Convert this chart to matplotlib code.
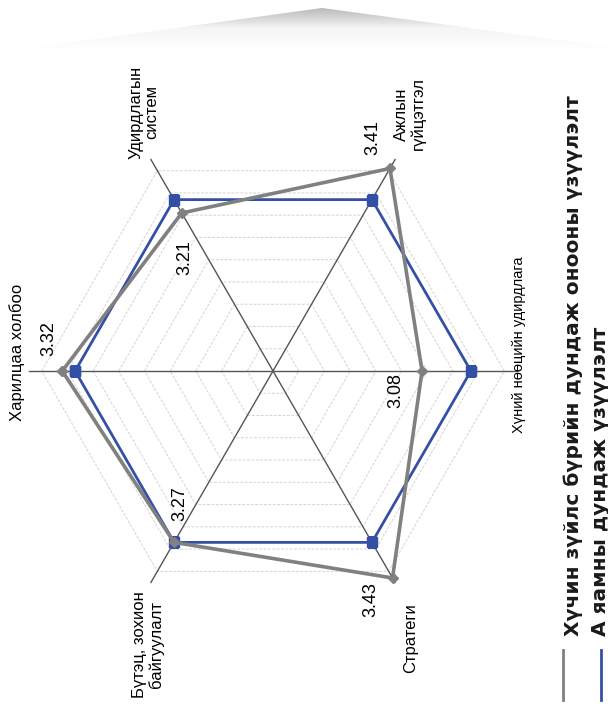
import numpy as np
import matplotlib
matplotlib.use("Agg")
import matplotlib.pyplot as plt
from matplotlib.lines import Line2D
from matplotlib.patches import Polygon

plt.rcParams['font.family'] = ['Liberation Sans', 'DejaVu Sans']

# ---- data ----
categories = ["Харилцаа холбоо", "Удирдлагын\nсистем", "Ажлын\nгүйцэтгэл",
              "Хүний нөөцийн удирдлага", "Стратеги", "Бүтэц, зохион\nбайгуулалт"]
factor_scores = [3.32, 3.21, 3.41, 3.08, 3.43, 3.27]
ministry_avg = [3.27, 3.27, 3.27, 3.27, 3.27, 3.27]
series_names = ["Хүчин зүйлс бүрийн дундаж онооны үзүүлэлт", "А яамны дундаж үзүүлэлт"]
r_min, r_max, r_step = 2.5, 3.4, 0.1

W, H = 608, 707
fig = plt.figure(figsize=(W / 100, H / 100), dpi=100)
fig.patch.set_facecolor('white')

def fx(px):
    return px / W

def fy(py):
    return 1 - py / H

# ---- decorative gradient roof at top ----
bg = fig.add_axes([0, 0, 1, 1], zorder=-5)
bg.set_xlim(0, W)
bg.set_ylim(H, 0)
bg.set_axis_off()
grad = np.linspace(0, 1, 100)[:, None] * np.ones((1, 10))
im = bg.imshow(grad, extent=(0, W, 50, 6), cmap=matplotlib.colors.LinearSegmentedColormap.from_list(
    'g', ['#b4b4b6', '#f5f5f5', '#ffffff']), aspect='auto', zorder=0)
roof = Polygon([(30, 48), (322, 8), (W + 40, 52), (W + 40, 50)], closed=True,
               transform=bg.transData, facecolor='none', edgecolor='none')
bg.add_patch(roof)
im.set_clip_path(roof)

# ---- radar ----
cx, cy, scale = 273, 371, 257
R = 1.0 * scale  # px for r range 2.5..3.5
ax = fig.add_axes([fx(cx - R), fy(cy + R), 2 * R / W, 2 * R / H], projection='polar')
ax.set_theta_offset(np.pi)
ax.set_theta_direction(-1)
ax.set_ylim(2.5, 3.5)
ax.set_axis_off()

n = len(categories)
theta = np.arange(n) * 2 * np.pi / n
theta_c = np.append(theta, theta[0])

levels = np.arange(r_min + r_step, r_max + 1e-9, r_step)
for lv in levels:
    ax.plot(theta_c, [lv] * (n + 1), color='#d4d4d4', lw=0.7, ls=(0, (3, 1.5)), zorder=1)
for t in theta:
    ax.plot([t, t], [r_min, 3.45], color='#555555', lw=1.0, zorder=2)

ax.plot(theta_c, ministry_avg + ministry_avg[:1], color='#3450a6', lw=2.0,
        marker='s', ms=6.5, zorder=3)
ax.plot(theta_c, factor_scores + factor_scores[:1], color='#808080', lw=2.6,
        marker='D', ms=5, zorder=4)

label_offsets = [(-13, 32), (3, -45), (-17, 31), (-26, -19), (-22, -22), (6, 39)]
for t, v, (dx, dy) in zip(theta, factor_scores, label_offsets):
    ax.annotate(f"{v:.2f}", xy=(t, v), xytext=(dx, dy), textcoords='offset pixels',
                ha='center', va='center', rotation=90, fontsize=13, color='black', zorder=5)

# ---- category labels (rotated) ----
cat_pos = [(17, 352), (144, 112), (410, 114), (519, 345), (411, 638), (148, 645)]
cat_size = [12, 12, 12, 10.5, 12, 12]
for name, (px, py), fs in zip(categories, cat_pos, cat_size):
    fig.text(fx(px), fy(py), name, rotation=90, ha='center', va='center',
             fontsize=fs, color='black', multialignment='center', linespacing=1.1)

# ---- legend (rotated) ----
leg_colors = ['#808080', '#3450a6']
leg_x = [563, 601]
leg_text_x = [573, 600]
for name, col, x, tx in zip(series_names, leg_colors, leg_x, leg_text_x):
    fig.add_artist(Line2D([fx(x), fx(x)], [fy(700), fy(650)], transform=fig.transFigure,
                          color=col, lw=2.0))
    fig.text(fx(tx), fy(636), name, rotation=90, ha='center', va='bottom',
             fontsize=14.5, fontweight='bold', family=['DejaVu Sans'], color='#1a1a1a')

fig.savefig('out.png', dpi=100, facecolor='white')
